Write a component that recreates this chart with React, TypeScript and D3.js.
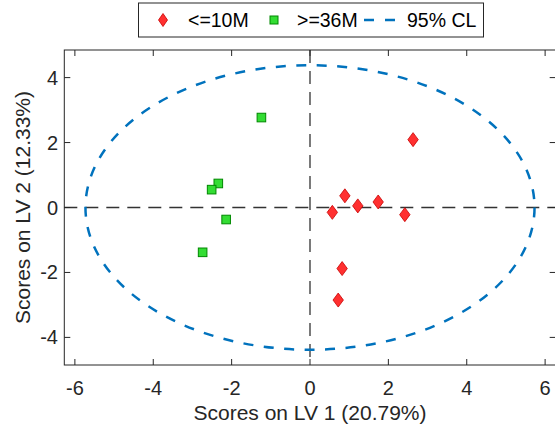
import React from "react";
import * as d3 from "d3";

const redX = [2.63, 0.89, 0.57, 1.22, 1.74, 2.42, 0.82, 0.72];
const redY = [2.09, 0.36, -0.15, 0.05, 0.17, -0.22, -1.88, -2.85];
const greenX = [-1.24, -2.34, -2.51, -2.14, -2.74];
const greenY = [2.77, 0.74, 0.55, -0.37, -1.38];
const ellipseR = [5.73, 4.38];
const xTicks = [-6, -4, -2, 0, 2, 4, 6];
const yTicks = [-4, -2, 0, 2, 4];
const legendLabels = ["<=10M", ">=36M", "95% CL"];
const xLabel = "Scores on LV 1 (20.79%)";
const yLabel = "Scores on LV 2 (12.33%)";

const W = 555, H = 426;
const L = 64.3, R = 555.7, T = 50, B = 365;
const FONT = "'Liberation Sans', Arial, Helvetica, sans-serif";

export default function App() {
  const x = d3.scaleLinear().domain([-6.27, 6.27]).range([L, R]);
  const y = d3.scaleLinear().domain([-4.85, 4.85]).range([B, T]);
  const axisCol = "#262626";
  const diamond = (cx: number, cy: number, w: number, h: number) =>
    `M${cx},${cy - h}L${cx + w},${cy}L${cx},${cy + h}L${cx - w},${cy}Z`;
  const red = redX.map((v, i) => [x(v), y(redY[i])]);
  const green = greenX.map((v, i) => [x(v), y(greenY[i])]);
  return (
    <svg width={W} height={H} style={{ position: "fixed", left: 0, top: 0, background: "#fff" }} fontFamily={FONT}>
      <rect x={0} y={0} width={W} height={H} fill="#fff" />
      {/* zero lines */}
      <line x1={L} x2={R} y1={y(0)} y2={y(0)} stroke="#333" strokeWidth={1.3} strokeDasharray="13 8" />
      <line x1={x(0)} x2={x(0)} y1={T} y2={B} stroke="#333" strokeWidth={1.3} strokeDasharray="13 8" />
      {/* ellipse */}
      <ellipse cx={x(0)} cy={y(0)} rx={x(ellipseR[0]) - x(0)} ry={y(0) - y(ellipseR[1])}
        fill="none" stroke="#0072BD" strokeWidth={2.5} strokeDasharray="10 10.5" />
      {/* markers */}
      {green.map(([cx, cy], i) => (
        <rect key={"g" + i} x={cx - 4.3} y={cy - 4.3} width={8.6} height={8.6} fill="#33DD33" stroke="#008800" strokeWidth={1} />
      ))}
      {red.map(([cx, cy], i) => (
        <path key={"r" + i} d={diamond(cx, cy, 5.2, 7)} fill="#FF3030" stroke="#C80000" strokeWidth={0.8} />
      ))}
      {/* axes box */}
      <rect x={L} y={T} width={R - L} height={B - T} fill="none" stroke={axisCol} strokeWidth={1} />
      {xTicks.map((t) => (
        <g key={"xt" + t}>
          <line x1={x(t)} x2={x(t)} y1={B} y2={B - 6} stroke={axisCol} />
          <line x1={x(t)} x2={x(t)} y1={T} y2={T + 6} stroke={axisCol} />
          <text x={x(t)} y={394.5} textAnchor="middle" fontSize={20} fill={axisCol}>{t}</text>
        </g>
      ))}
      {yTicks.map((t) => (
        <g key={"yt" + t}>
          <line x1={L} x2={L + 6} y1={y(t)} y2={y(t)} stroke={axisCol} />
          <line x1={R} x2={R - 6} y1={y(t)} y2={y(t)} stroke={axisCol} />
          <text x={58} y={y(t) + 7} textAnchor="end" fontSize={20} fill={axisCol}>{t}</text>
        </g>
      ))}
      <text x={x(0)} y={420} textAnchor="middle" fontSize={21} fill={axisCol}>{xLabel}</text>
      <text transform={`translate(30,${y(0)}) rotate(-90)`} textAnchor="middle" fontSize={21} fill={axisCol}>{yLabel}</text>
      {/* legend */}
      <rect x={138.5} y={3} width={345} height={34} fill="#fff" stroke={axisCol} strokeWidth={1} />
      <path d={diamond(163, 20, 4.5, 6.5)} fill="#FF3030" stroke="#C80000" strokeWidth={0.8} />
      <text x={188} y={27} fontSize={19.5} fill="#000">{legendLabels[0]}</text>
      <rect x={270} y={16} width={8} height={8} fill="#33DD33" stroke="#008800" strokeWidth={1} />
      <text x={297} y={27} fontSize={19.5} fill="#000">{legendLabels[1]}</text>
      <line x1={364} x2={396} y1={20} y2={20} stroke="#0072BD" strokeWidth={2.5} strokeDasharray="10 11" />
      <text x={407} y={27} fontSize={19.5} fill="#000">{legendLabels[2]}</text>
    </svg>
  );
}
